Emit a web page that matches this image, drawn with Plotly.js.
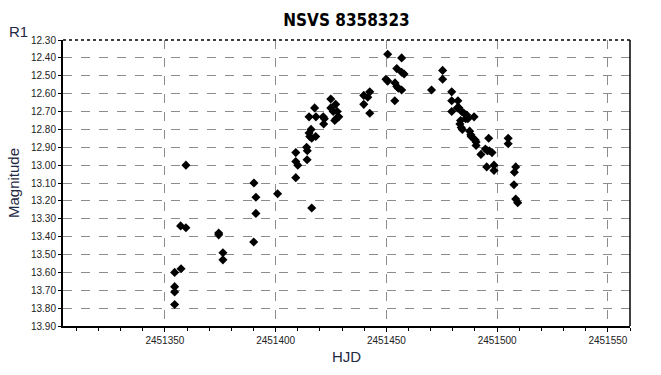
<!DOCTYPE html>
<html>
<head>
<meta charset="utf-8">
<script src="https://cdn.plot.ly/plotly-3.0.1.min.js"></script>
<style>html,body{margin:0;padding:0;background:#fff;}#chart{width:661px;height:375px;}</style>
</head>
<body>
<div id="chart"></div>
<script>
const titleText = "NSVS 8358323";
const filterLabel = "R1";
const xTitle = "HJD";
const yTitle = "Magnitude";

const hjd = [
  2451354.4, 2451354.4, 2451354.4, 2451354.4, 2451357.1, 2451357.3, 2451359.5, 2451359.5,
  2451374.3, 2451374.3, 2451376.2, 2451376.2, 2451390.2, 2451391.1, 2451391.1, 2451390.1,
  2451400.9, 2451409.1, 2451409.1, 2451410.0, 2451409.1, 2451414.0, 2451414.3, 2451414.2,
  2451416.0, 2451415.1, 2451415.4, 2451416.3, 2451418.1, 2451416.3, 2451417.6, 2451418.2,
  2451415.1, 2451421.5, 2451422.0, 2451421.7, 2451424.9, 2451427.1, 2451424.9, 2451426.0,
  2451427.8, 2451428.5, 2451427.3, 2451426.7, 2451439.8, 2451441.6, 2451442.5, 2451439.8,
  2451442.5, 2451450.6, 2451449.8, 2451450.6, 2451453.9, 2451454.7, 2451455.4, 2451453.8,
  2451454.7, 2451456.9, 2451456.9, 2451458.0, 2451456.9, 2451470.4, 2451475.4, 2451475.4,
  2451479.5, 2451479.5, 2451482.3, 2451482.8, 2451482.0, 2451479.5, 2451484.0, 2451485.0,
  2451486.3, 2451486.8, 2451485.8, 2451489.6, 2451483.5, 2451483.2, 2451483.8, 2451484.3,
  2451487.6, 2451488.1, 2451488.3, 2451489.2, 2451490.1, 2451490.5, 2451490.5, 2451496.2,
  2451494.7, 2451495.6, 2451496.5, 2451497.7, 2451492.7, 2451505.0, 2451505.0, 2451495.3,
  2451498.6, 2451498.6, 2451508.4, 2451507.8, 2451507.6, 2451508.4, 2451509.3
];
const mag = [
  13.60, 13.68, 13.71, 13.78, 13.34, 13.58, 13.00, 13.35,
  13.38, 13.39, 13.49, 13.53, 13.10, 13.18, 13.27, 13.43,
  13.16, 12.93, 12.98, 13.00, 13.07, 12.90, 12.92, 12.97,
  12.80, 12.82, 12.84, 12.85, 12.84, 13.24, 12.68, 12.73,
  12.73, 12.73, 12.74, 12.77, 12.63, 12.66, 12.68, 12.70,
  12.70, 12.73, 12.74, 12.75, 12.61, 12.62, 12.59, 12.66,
  12.71, 12.38, 12.52, 12.53, 12.54, 12.56, 12.57, 12.64,
  12.46, 12.40, 12.48, 12.49, 12.58, 12.58, 12.47, 12.52,
  12.59, 12.64, 12.64, 12.68, 12.68, 12.70, 12.70, 12.71,
  12.72, 12.74, 12.74, 12.73, 12.75, 12.77, 12.79, 12.80,
  12.81, 12.83, 12.84, 12.85, 12.86, 12.87, 12.89, 12.85,
  12.91, 12.92, 12.92, 12.93, 12.94, 12.85, 12.88, 13.01,
  13.00, 13.03, 13.01, 13.04, 13.11, 13.19, 13.21
];

const xTicks = [2451350, 2451400, 2451450, 2451500, 2451550];
const yTicks = [12.3,12.4,12.5,12.6,12.7,12.8,12.9,13.0,13.1,13.2,13.3,13.4,13.5,13.6,13.7,13.8,13.9];

const trace = {
  x: hjd, y: mag, type: 'scatter', mode: 'markers',
  marker: {symbol: 'diamond', size: 7, color: '#000000'},
  hoverinfo: 'x+y'
};

const layout = {
  width: 661, height: 375,
  margin: {l: 63, r: 31, t: 40, b: 49},
  paper_bgcolor: '#ffffff', plot_bgcolor: '#ffffff',
  showlegend: false,
  font: {family: 'Liberation Sans, Arial, sans-serif', color: '#000'},
  title: {
    text: '<b>' + titleText + '</b>',
    font: {family: 'DejaVu Sans Condensed, Liberation Sans, sans-serif', size: 17, color: '#000'},
    x: 0.5, xanchor: 'center', xref: 'paper',
    y: 0.947, yref: 'container', yanchor: 'middle'
  },
  xaxis: {
    range: [2451304, 2451560],
    tickmode: 'array', tickvals: xTicks, ticktext: xTicks.map(String),
    ticks: 'outside', ticklen: 4, tickcolor: '#000', tickwidth: 1,
    tickfont: {size: 10, color: '#222'},
    showgrid: true, gridcolor: '#8c8c8c', griddash: 'dash', gridwidth: 1,
    showline: true, linecolor: '#000', linewidth: 2, mirror: false,
    zeroline: false,
    minor: {dtick: 10, tick0: 2451300, ticks: 'outside', ticklen: 3, tickcolor: '#000', showgrid: false},
    title: {text: xTitle, font: {size: 15, color: '#1f2a44'}, standoff: 6}
  },
  yaxis: {
    range: [13.9, 12.3],
    tickmode: 'array', tickvals: yTicks, ticktext: yTicks.map(v => v.toFixed(2)),
    ticks: 'outside', ticklen: 3, tickcolor: '#000',
    tickfont: {size: 10, color: '#222'},
    showgrid: true, gridcolor: '#8c8c8c', griddash: 'dash', gridwidth: 1,
    showline: true, linecolor: '#000', linewidth: 2,
    zeroline: false,
    title: {text: yTitle, font: {size: 15, color: '#1f2a44'}, standoff: 8}
  },
  shapes: [
    {type: 'line', xref: 'paper', yref: 'paper', x0: 0, x1: 1, y0: 1, y1: 1,
     line: {color: '#000', width: 1.5, dash: 'dot'}},
    {type: 'line', xref: 'paper', yref: 'paper', x0: 1, x1: 1, y0: 0, y1: 1,
     line: {color: '#000', width: 1.5}}
  ],
  annotations: [
    {text: filterLabel, xref: 'paper', yref: 'paper', x: -0.079, y: 1.028,
     xanchor: 'center', yanchor: 'middle', showarrow: false,
     font: {size: 15, color: '#1f2a44'}}
  ]
};

Plotly.newPlot('chart', [trace], layout, {displayModeBar: false, staticPlot: true});
</script>
</body>
</html>
